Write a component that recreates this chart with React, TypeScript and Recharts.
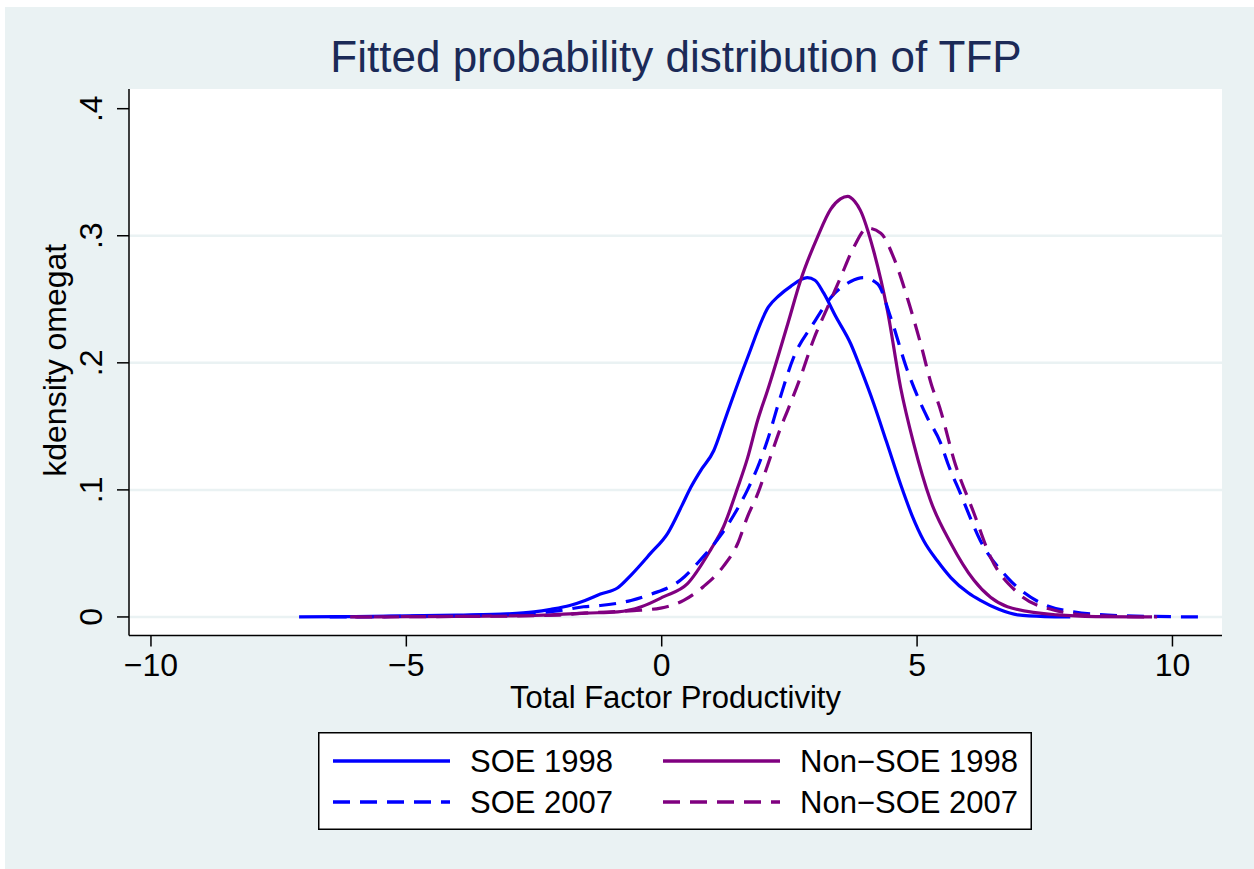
import React from 'react';
import { LineChart, Line, XAxis, YAxis, CartesianGrid, ReferenceLine, Legend, Customized } from 'recharts';

const FONT = '"Liberation Sans", Arial, Helvetica, sans-serif';

// ---- data ----
const soe1998X = [-7.1, -6, -5, -4, -3, -2.5, -2.17, -1.8, -1.5, -1.2, -0.86, -0.6, -0.22, 0.12, 0.4, 0.57, 0.76, 1.02, 1.21, 1.35, 1.68, 2.09, 2.3, 2.52, 2.85, 3.0, 3.17, 3.4, 3.7, 3.9, 4.15, 4.4, 4.68, 4.9, 5.13, 5.4, 5.66, 6.0, 6.24, 6.6, 6.97, 7.5, 8.0];
const soe1998Y = [0, 0.0003, 0.0008, 0.0015, 0.0025, 0.004, 0.006, 0.009, 0.013, 0.018, 0.023, 0.033, 0.05, 0.066, 0.088, 0.102, 0.115, 0.131, 0.152, 0.168, 0.204, 0.244, 0.253, 0.26, 0.267, 0.265, 0.255, 0.237, 0.215, 0.195, 0.168, 0.138, 0.104, 0.08, 0.06, 0.044, 0.031, 0.019, 0.013, 0.006, 0.0016, 0.0003, 0];

const soe2007X = [-6.5, -5, -4, -3, -2.5, -2, -1.53, -1.2, -0.6, -0.2, 0.37, 0.76, 1.15, 1.41, 1.68, 1.88, 2.07, 2.3, 2.58, 2.97, 3.37, 3.7, 3.95, 4.23, 4.48, 4.81, 5.07, 5.2, 5.46, 5.6, 5.85, 6.24, 6.77, 7.42, 8.06, 9.0, 10.55];
const soe2007Y = [0, 0.0005, 0.001, 0.002, 0.003, 0.005, 0.008, 0.009, 0.013, 0.018, 0.029, 0.045, 0.064, 0.08, 0.1, 0.118, 0.139, 0.17, 0.204, 0.231, 0.254, 0.264, 0.267, 0.262, 0.236, 0.194, 0.168, 0.157, 0.137, 0.121, 0.097, 0.06, 0.031, 0.011, 0.004, 0.001, 0];

const non1998X = [-6.1, -5, -4, -3, -2.17, -1.5, -0.86, -0.4, 0.04, 0.5, 0.96, 1.21, 1.49, 1.68, 1.88, 2.07, 2.47, 2.72, 3.05, 3.31, 3.5, 3.64, 3.78, 3.89, 4.15, 4.42, 4.68, 4.93, 5.26, 5.66, 6.11, 6.77, 7.75, 8.5, 9.6];
const non1998Y = [0, 0.0002, 0.0004, 0.0008, 0.0016, 0.003, 0.004, 0.008, 0.016, 0.026, 0.053, 0.071, 0.102, 0.125, 0.155, 0.178, 0.231, 0.265, 0.299, 0.321, 0.329, 0.331, 0.327, 0.32, 0.288, 0.241, 0.18, 0.137, 0.092, 0.058, 0.029, 0.008, 0.0016, 0.0003, 0];

const non2007X = [-6, -5, -4, -3, -2, -1.53, -0.55, -0.02, 0.43, 0.82, 1.21, 1.49, 1.68, 1.88, 2.07, 2.33, 2.47, 2.72, 2.97, 3.25, 3.5, 3.76, 4.03, 4.29, 4.54, 4.81, 5.07, 5.32, 5.4, 5.75, 6.11, 6.44, 6.97, 7.67, 8.5, 9.7];
const non2007Y = [0, 0.0002, 0.0004, 0.0007, 0.0015, 0.003, 0.005, 0.007, 0.013, 0.024, 0.04, 0.058, 0.079, 0.097, 0.119, 0.149, 0.163, 0.189, 0.218, 0.244, 0.267, 0.291, 0.306, 0.302, 0.283, 0.251, 0.215, 0.178, 0.17, 0.12, 0.082, 0.047, 0.019, 0.0055, 0.001, 0];

const seriesNames = ['SOE 1998', 'Non\u2212SOE 1998', 'SOE 2007', 'Non\u2212SOE 2007'];
const xTicks = [-10, -5, 0, 5, 10];
const yTicks = [0, 0.1, 0.2, 0.3, 0.4];
const yTickLabels = ['0', '.1', '.2', '.3', '.4'];
const gridValues = [0, 0.1, 0.2, 0.3];
const titleText = 'Fitted probability distribution of TFP';
const xTitle = 'Total Factor Productivity';
const yTitle = 'kdensity omegat';

// ---- styles ----
const BLUE = '#0000ff';
const PURPLE = '#800080';
const DASH = '17 10';
const seriesStyles = [
  { color: BLUE, dash: undefined as string | undefined },
  { color: PURPLE, dash: undefined as string | undefined },
  { color: BLUE, dash: DASH },
  { color: PURPLE, dash: DASH },
];
const allSeries = [
  { xs: soe1998X, ys: soe1998Y },
  { xs: non1998X, ys: non1998Y },
  { xs: soe2007X, ys: soe2007Y },
  { xs: non2007X, ys: non2007Y },
];
const toPoints = (xs: number[], ys: number[]) => xs.map((x, i) => ({ x, y: ys[i] }));

const fmtX = (v: number) => (v < 0 ? '\u2212' + Math.abs(v) : String(v));

const YTick = (props: any) => {
  const { x, y, payload } = props;
  const idx = yTicks.indexOf(payload.value);
  const label = idx >= 0 ? yTickLabels[idx] : String(payload.value);
  return (
    <text x={x} y={y} transform={`rotate(-90, ${x}, ${y})`} textAnchor="middle" fontSize={32} fontFamily={FONT} fill="#000">
      {label}
    </text>
  );
};

const LegendBox = () => {
  const colX = [0, 330];
  const rowY = [29, 70];
  return (
    <svg width={714} height={98} style={{ display: 'block' }}>
      <rect x={0.75} y={0.75} width={712.5} height={96.5} fill="#fff" stroke="#000" strokeWidth={1.5} />
      {seriesNames.map((name, i) => {
        const col = i % 2;
        const row = Math.floor(i / 2);
        const st = seriesStyles[i];
        const lx = 15 + colX[col];
        const ly = rowY[row];
        return (
          <g key={name}>
            <line x1={lx} x2={lx + 117} y1={ly} y2={ly} stroke={st.color} strokeWidth={3.5} strokeDasharray={st.dash} />
            <text x={lx + 137} y={ly + 11} fontSize={31} fontFamily={FONT} fill="#000">{name}</text>
          </g>
        );
      })}
    </svg>
  );
};

const Title = () => (
  <text x={676} y={72} textAnchor="middle" fontSize={44} fontFamily={FONT} fill="#1b2a57">{titleText}</text>
);

export default function App() {
  return (
    <div style={{ position: 'absolute', left: 0, top: 0, width: 1254, height: 869, background: '#fff', overflow: 'hidden' }}>
      <div style={{ position: 'absolute', left: 5, top: 7, width: 1249, height: 862, background: '#eaf2f3' }} />
      <div style={{ position: 'absolute', left: 0, top: 0 }}>
        <LineChart width={1254} height={869} margin={{ top: 89, right: 32, bottom: 153.5, left: 0 }}>
          <CartesianGrid horizontal={false} vertical={false} fill="#ffffff" stroke="none" />
          <XAxis
            type="number"
            dataKey="x"
            domain={[-10.43, 10.97]}
            allowDataOverflow
            ticks={xTicks}
            tickFormatter={fmtX}
            height={80}
            tickSize={11}
            tickMargin={7}
            tick={{ fontSize: 32, fontFamily: FONT, fill: '#000' }}
            axisLine={{ stroke: '#000', strokeWidth: 1.5 }}
            tickLine={{ stroke: '#000', strokeWidth: 1.5 }}
            label={(p: any) => {
              const vb = p.viewBox || { x: 129, y: 635.5, width: 1093 };
              return (
                <text x={vb.x + vb.width / 2} y={vb.y + 72.5} textAnchor="middle" fontSize={31} fontFamily={FONT} fill="#000">{xTitle}</text>
              );
            }}
          />
          <YAxis
            type="number"
            domain={[-0.0146, 0.4155]}
            allowDataOverflow
            ticks={yTicks}
            width={129}
            tickSize={12}
            tickMargin={15}
            tick={<YTick />}
            axisLine={{ stroke: '#000', strokeWidth: 1.5 }}
            tickLine={{ stroke: '#000', strokeWidth: 1.5 }}
            label={(p: any) => {
              const vb = p.viewBox || { x: 0, y: 89, width: 129, height: 546.5 };
              const cx = 66;
              const cy = vb.y + vb.height / 2 - 2;
              return (
                <text x={cx} y={cy} transform={`rotate(-90, ${cx}, ${cy})`} textAnchor="middle" fontSize={32} fontFamily={FONT} fill="#000">{yTitle}</text>
              );
            }}
          />
          {gridValues.map((v) => (
            <ReferenceLine key={v} y={v} stroke="#eaf2f3" strokeWidth={2.5} ifOverflow="hidden" />
          ))}
          {allSeries.map((s, i) => (
            <Line
              key={seriesNames[i]}
              data={toPoints(s.xs, s.ys)}
              dataKey="y"
              name={seriesNames[i]}
              type="monotone"
              stroke={seriesStyles[i].color}
              strokeWidth={3.2}
              strokeDasharray={seriesStyles[i].dash}
              dot={false}
              activeDot={false}
              isAnimationActive={false}
            />
          ))}
          <Legend
            layout="horizontal"
            verticalAlign="middle"
            align="center"
            wrapperStyle={{ left: 318, top: 732, width: 714, height: 98 }}
            content={() => <LegendBox />}
          />
          <Customized component={Title} />
        </LineChart>
      </div>
    </div>
  );
}
